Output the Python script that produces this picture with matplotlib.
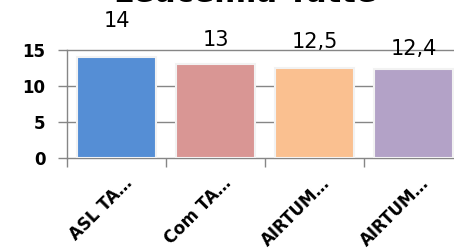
import matplotlib.pyplot as plt
from matplotlib.transforms import ScaledTranslation

# chart data
categories = ["ASL TA…", "Com TA…", "AIRTUM…", "AIRTUM…"]
values = [14, 13, 12.5, 12.4]
value_labels = ["14", "13", "12,5", "12,4"]
y_ticks = [0, 5, 10, 15]
title = "Leucemia Tutte"

# styling
bar_colors = ["#558ed5", "#d99694", "#fac090", "#b3a2c7"]
label_lift_pt = [21.5, 13, 14.5, 10]   # Excel put the labels at odd heights
grid_grey = "#868686"

fig = plt.figure(figsize=(4.54, 2.5), dpi=100)
ax = fig.add_axes([67 / 454, 1 - 158 / 250, 396 / 454, 108 / 250])

x = list(range(len(categories)))
ax.bar(x, values, width=0.8, color=bar_colors, edgecolor="#f2f2f2",
       linewidth=1.5, zorder=2)

for yt in y_ticks:
    ax.axhline(yt, color=grid_grey, lw=1.0, zorder=1, clip_on=False)

ax.set_xlim(-0.5, len(categories) - 0.5)
ax.set_ylim(0, 15)

for s in ["top", "right", "bottom"]:
    ax.spines[s].set_visible(False)
ax.spines["left"].set_color(grid_grey)
ax.spines["left"].set_linewidth(1.0)

# y axis
ax.set_yticks(y_ticks)
ax.set_yticklabels([str(t) for t in y_ticks], fontsize=12, fontweight="bold")
ax.tick_params(axis="y", length=6.5, width=1.0, color=grid_grey, pad=9)

# x axis: boundary ticks as minor, labels on major
ax.set_xticks([i - 0.5 for i in range(len(categories) + 1)], minor=True)
ax.tick_params(axis="x", which="minor", length=6.5, width=1.0, color=grid_grey)
ax.set_xticks(x)
ax.set_xticklabels(categories, fontsize=12, fontweight="bold", rotation=45,
                   ha="right", va="center", rotation_mode="anchor")
ax.tick_params(axis="x", which="major", length=0, pad=16)
shift = ScaledTranslation(13 / 100, 0, fig.dpi_scale_trans)
for lab in ax.get_xticklabels():
    lab.set_transform(lab.get_transform() + shift)

# value labels
for xi, v, txt, lift in zip(x, values, value_labels, label_lift_pt):
    ax.annotate(txt, (xi, v), xytext=(0, lift), textcoords="offset points",
                ha="center", va="baseline", fontsize=15, annotation_clip=False)

# title sits mostly above the canvas, as in the original export
fig.text(245 / 454, 1 - 2.5 / 250, title, ha="center", va="baseline",
         fontsize=22, fontweight="bold")

fig.savefig("out.png", dpi=100)
